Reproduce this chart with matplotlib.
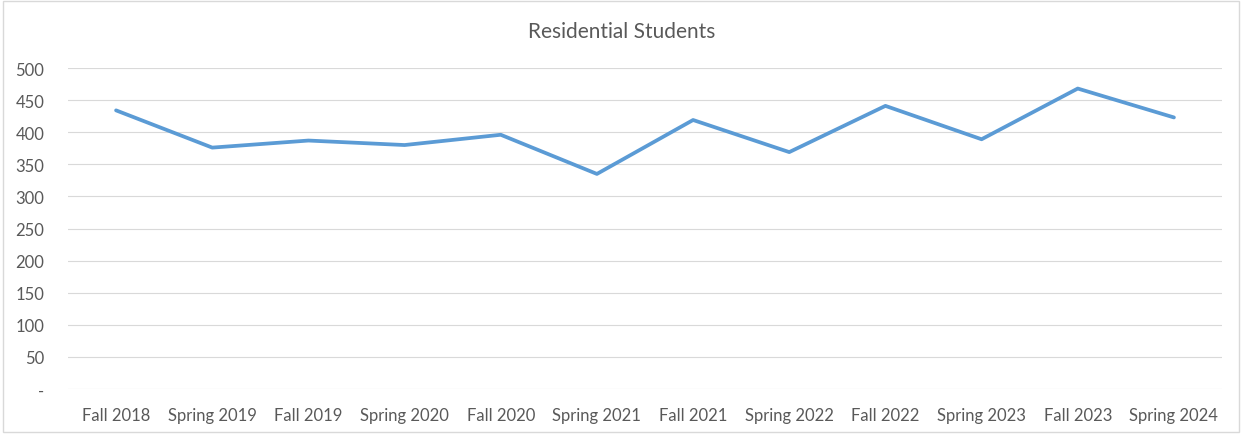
import matplotlib
matplotlib.use("Agg")
import matplotlib.pyplot as plt
from matplotlib.patches import Rectangle

categories = ["Fall 2018", "Spring 2019", "Fall 2019", "Spring 2020", "Fall 2020",
              "Spring 2021", "Fall 2021", "Spring 2022", "Fall 2022", "Spring 2023",
              "Fall 2023", "Spring 2024"]
students = [434, 376, 387, 380, 396, 335, 419, 369, 441, 389, 468, 423]
yticks = [0, 50, 100, 150, 200, 250, 300, 350, 400, 450, 500]
ytick_labels = ["-", "50", "100", "150", "200", "250", "300", "350", "400", "450", "500"]

plt.rcParams['font.family'] = ['Lato', 'DejaVu Sans']

fig = plt.figure(figsize=(12.42, 4.35), dpi=100)
fig.patches.append(Rectangle((0.0025, 0.005), 0.995, 0.99, transform=fig.transFigure,
                             fill=False, edgecolor="#D9D9D9", linewidth=1))
ax = fig.add_axes([68/1242, 1-390/435, (1222-68)/1242, (390-69)/435])

x = list(range(len(categories)))
ax.plot(x, students, color="#5B9BD5", linewidth=2.7, solid_capstyle="round",
        solid_joinstyle="round", zorder=3)

ax.set_xlim(-0.5, len(categories) - 0.5)
ax.set_ylim(0, 500)
ax.set_yticks(yticks)
ax.set_yticklabels(ytick_labels)
ax.set_xticks(x)
ax.set_xticklabels(categories)
ax.grid(axis="y", color="#D9D9D9", linewidth=0.8)
ax.set_axisbelow(True)
for s in ax.spines.values():
    s.set_visible(False)
ax.tick_params(axis="both", length=0, colors="#595959", labelsize=12)
ax.tick_params(axis="y", pad=17)
ax.tick_params(axis="x", pad=13)

fig.text(622/1242, 1-32/435, "Residential Students", ha="center", va="center",
         fontsize=15, color="#595959")

fig.savefig("out.png", dpi=100)
